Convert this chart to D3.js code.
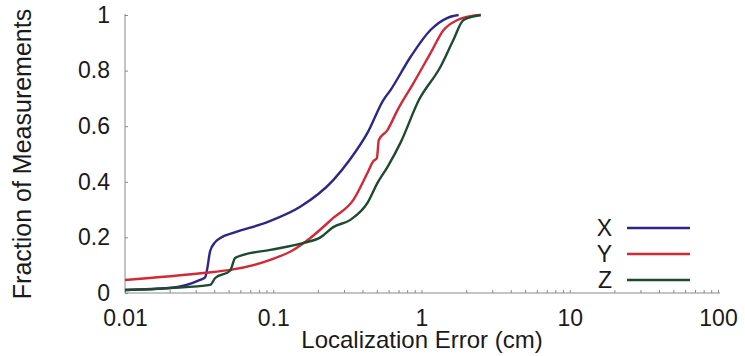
<!DOCTYPE html>
<html>
<head>
<meta charset="utf-8">
<script src="https://cdn.jsdelivr.net/npm/d3@7"></script>
<style>
  html, body { margin: 0; padding: 0; background: #fff; }
  svg { display: block; font-family: "Liberation Sans", Arial, Helvetica, sans-serif; }
  .axis path, .axis line { stroke: #8a8a8a; }
  .axis text { fill: #1a1a1a; font-size: 23px; }
</style>
</head>
<body>
<svg id="chart"></svg>
<script>
const seriesNames = ['X', 'Y', 'Z'];
const seriesColors = ['#2c2787', '#d12a36', '#1e4a31'];

const xErr = [
  [0.01, 0.011], [0.0201, 0.018], [0.0321, 0.047], [0.0347, 0.056], [0.0358, 0.085],
  [0.0375, 0.15], [0.0406, 0.183], [0.0440, 0.198], [0.0537, 0.216], [0.0911, 0.255],
  [0.152, 0.31], [0.254, 0.406], [0.331, 0.482], [0.432, 0.576], [0.553, 0.694],
  [0.618, 0.73], [0.843, 0.849], [1.15, 0.946], [1.50, 0.99], [1.78, 1.0]
];
const yErr = [
  [0.01, 0.047], [0.0337, 0.072], [0.0512, 0.083], [0.0955, 0.119], [0.1365, 0.155],
  [0.178, 0.198], [0.254, 0.27], [0.347, 0.335], [0.432, 0.432], [0.474, 0.475],
  [0.500, 0.485], [0.515, 0.55], [0.589, 0.586], [0.689, 0.658], [0.883, 0.755],
  [1.15, 0.863], [1.41, 0.946], [1.75, 0.982], [2.14, 0.996], [2.51, 1.0]
];
const zErr = [
  [0.01, 0.011], [0.0201, 0.018], [0.0375, 0.029], [0.0406, 0.054], [0.0512, 0.08],
  [0.0553, 0.126], [0.0627, 0.137], [0.0955, 0.155], [0.160, 0.18], [0.208, 0.2],
  [0.254, 0.237], [0.331, 0.263], [0.432, 0.324], [0.505, 0.396], [0.589, 0.453],
  [0.721, 0.54], [0.96, 0.694], [1.34, 0.813], [1.64, 0.91], [1.92, 0.982], [2.51, 1.0]
];
const seriesData = [xErr, yErr, zErr];

const xMajor = [0.01, 0.1, 1, 10, 100];
const xMajorLabels = ['0.01', '0.1', '1', '10', '100'];
const yTicks = [0, 0.2, 0.4, 0.6, 0.8, 1];
const yTickLabels = ['0', '0.2', '0.4', '0.6', '0.8', '1'];

const W = 745, H = 356;
const svg = d3.select('#chart').attr('width', W).attr('height', H);

const x = d3.scaleLog().domain([0.01, 100]).range([125, 718]);
const y = d3.scaleLinear().domain([0, 1]).range([293, 15]);

// minor ticks at 2..9 of every decade
const xMinor = [];
xMajor.slice(0, -1).forEach(d => { for (let k = 2; k <= 9; k++) xMinor.push(d * k); });

svg.append('g')
  .attr('class', 'axis')
  .attr('transform', `translate(0,${y(0)})`)
  .call(d3.axisBottom(x)
    .tickValues(xMajor.concat(xMinor))
    .tickSizeInner(-3).tickSizeOuter(0).tickPadding(17)
    .tickFormat(d => { const i = xMajor.indexOf(d); return i >= 0 ? xMajorLabels[i] : ''; }))
  .call(g => g.select('.domain').attr('d', `M${x(0.01)},0H${x(100) + 2}`));

svg.append('g')
  .attr('class', 'axis')
  .attr('transform', `translate(${x(0.01)},0)`)
  .call(d3.axisLeft(y)
    .tickValues(yTicks)
    .tickSizeInner(-3).tickSizeOuter(0).tickPadding(15)
    .tickFormat((d, i) => yTickLabels[i]))
  .call(g => g.select('.domain').attr('d', `M0,${y(1) - 1}V${y(0)}`));

// axis titles
svg.append('text')
  .attr('x', 422).attr('y', 348)
  .attr('text-anchor', 'middle')
  .attr('font-size', 24).attr('fill', '#1a1a1a')
  .text('Localization Error (cm)');

svg.append('text')
  .attr('transform', 'translate(31,154) rotate(-90)')
  .attr('text-anchor', 'middle')
  .attr('font-size', 25).attr('fill', '#1a1a1a')
  .text('Fraction of Measurements');

// curves
const line = d3.line()
  .x(d => x(d[0]))
  .y(d => y(d[1]))
  .curve(d3.curveMonotoneX);

svg.append('g')
  .selectAll('path')
  .data(seriesData)
  .join('path')
    .attr('d', line)
    .attr('fill', 'none')
    .attr('stroke', (d, i) => seriesColors[i])
    .attr('stroke-width', 2.4)
    .attr('stroke-linejoin', 'round');

// legend
const legend = svg.append('g');
seriesNames.forEach((name, i) => {
  const ly = 228 + i * 26;
  legend.append('text')
    .attr('x', 612).attr('y', ly + 8)
    .attr('text-anchor', 'end')
    .attr('font-size', 23).attr('fill', '#1a1a1a')
    .text(name);
  legend.append('line')
    .attr('x1', 627).attr('x2', 690)
    .attr('y1', ly).attr('y2', ly)
    .attr('stroke', seriesColors[i])
    .attr('stroke-width', 2.4);
});
</script>
</body>
</html>
